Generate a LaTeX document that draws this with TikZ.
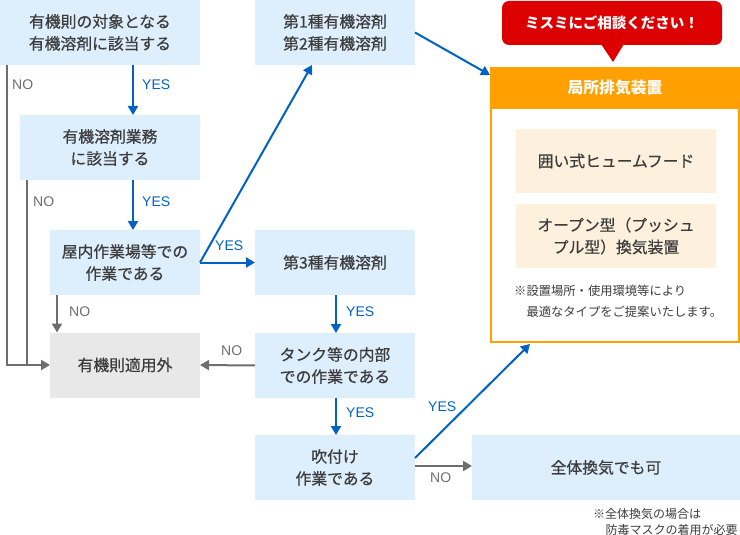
\documentclass[tikz,border=0pt]{standalone}
\usepackage{fontspec}
\setmainfont{Noto Sans CJK JP}
\newfontfamily\medfont{Noto Sans CJK JP}[FakeBold=0.5]
\newfontfamily\latinfont{Liberation Sans}
\usetikzlibrary{arrows.meta}
\definecolor{lblue}{HTML}{DDEEFC}
\definecolor{lgray}{HTML}{E8E8E8}
\definecolor{lineblue}{HTML}{0062C4}
\definecolor{linegray}{HTML}{6E6E6E}
\definecolor{txt}{HTML}{3C3C3C}
\definecolor{orng}{HTML}{FF9F00}
\definecolor{cream}{HTML}{FDF0DD}
\definecolor{callred}{HTML}{DC0000}
\tikzset{
  bx/.style={fill=lblue, inner sep=0pt, outer sep=0pt, align=center, text=txt,
    font=\medfont\fontsize{15.8}{22}\selectfont},
  graybx/.style={bx, fill=lgray},
  creambx/.style={bx, fill=cream},
  yes/.style={draw=lineblue, line width=2pt, -{Triangle[length=9pt,width=10pt]}},
  no/.style={draw=linegray, line width=2pt, -{Triangle[length=9pt,width=10pt]}},
  plainno/.style={draw=linegray, line width=2pt},
  yeslbl/.style={anchor=west, text=lineblue, inner sep=0pt, font=\latinfont\fontsize{14}{14}\selectfont},
  nolbl/.style={anchor=west, text=linegray, inner sep=0pt, font=\latinfont\fontsize{14}{14}\selectfont},
  note/.style={anchor=north west, align=left, inner sep=0pt, text=txt}
}
\begin{document}
\begin{tikzpicture}[x=1pt,y=-1pt]
\useasboundingbox (0,0) rectangle (740,535);
% boxes
\node[bx, minimum width=200, minimum height=65] (A) at (100,32.5) {有機則の対象となる\\有機溶剤に該当する};
\node[bx, minimum width=180, minimum height=65] (B) at (110,147.5) {有機溶剤業務\\に該当する};
\node[bx, minimum width=150, minimum height=65] (C) at (125,262.5) {屋内作業場等での\\作業である};
\node[graybx, minimum width=150, minimum height=65] (D) at (125,365) {有機則適用外};
\node[bx, minimum width=160, minimum height=65] (E) at (335,32.5) {第1種有機溶剤\\第2種有機溶剤};
\node[bx, minimum width=160, minimum height=65] (F) at (335,262.5) {第3種有機溶剤};
\node[bx, minimum width=160, minimum height=65] (G) at (335,365.5) {タンク等の内部\\での作業である};
\node[bx, minimum width=160, minimum height=65] (H) at (335,467.5) {吹付け\\作業である};
\node[bx, minimum width=268, minimum height=65] (I) at (606,467.5) {全体換気でも可};
% orange panel
\node[draw=orng, line width=2pt, minimum width=248, minimum height=273, inner sep=0pt, outer sep=0pt] (OR) at (615,205) {};
\node[fill=orng, minimum width=250, minimum height=42, inner sep=0pt, outer sep=0pt, text=white,
  font=\fontsize{15.8}{15.8}\selectfont\bfseries] (ORH) at (615,88) {局所排気装置};
\node[creambx, minimum width=200, minimum height=64] (K1) at (616,161) {囲い式ヒュームフード};
\node[creambx, minimum width=200, minimum height=64] (K2) at (616,236) {オープン型（プッシュ\\プル型）換気装置};
\node[note, font=\fontsize{12.3}{21}\selectfont] (N1) at (514,285) {※設置場所・使用環境等により\\\hspace{12.3pt}最適なタイプをご提案いたします。};
% callout
\node[fill=callred, rounded corners=7pt, minimum width=220, minimum height=44, inner sep=0pt, text=white,
  font=\fontsize{14.5}{14.5}\selectfont\bfseries] (CALL) at (612,23) {ミスミにご相談ください！};
\coordinate (P1) at (601,44);
\coordinate (P2) at (624,44);
\coordinate (PT) at (613,62);
\fill[callred] (P1) -- (P2) -- (PT) -- cycle;
% bottom note
\node[note, font=\fontsize{12}{16}\selectfont] (N2) at (593,508) {※全体換気の場合は\\\hspace{12.5pt}防毒マスクの着用が必要};
% helper coordinates
\coordinate (xa) at (133,0);
\coordinate (x7) at (7,0);
\coordinate (x27) at (27,0);
\coordinate (x57) at (57,0);
\coordinate (xf) at (336,0);
\coordinate (Etip) at (312,65);
\coordinate (ORin) at (490,75);
\coordinate (ORbot) at (530,344);
% connectors
\draw[yes] (A.south -| xa) -- (B.north -| xa);
\draw[yes] (B.south -| xa) -- (C.north -| xa);
\draw[no] (A.south -| x7) |- (D.west);
\draw[plainno] (B.south -| x27) -- (x27 |- D.west);
\draw[no] (C.south -| x57) -- (D.north -| x57);
\draw[yes] (C.east) -- (F.west);
\draw[yes] (C.east) -- (Etip);
\draw[yes] (E.east) -- (ORin);
\draw[yes] (F.south -| xf) -- (G.north -| xf);
\draw[no] (G.west) -- (D.east);
\draw[yes] (G.south -| xf) -- (H.north -| xf);
\draw[yes] ([yshift=9.5pt]H.east) -- (ORbot);
\draw[no] ([yshift=1.5pt]H.east) -- ([yshift=1.5pt]I.west);
% labels
\node[yeslbl] (l1) at (142,85) {YES};
\node[nolbl] (l2) at (12,85) {NO};
\node[yeslbl] (l3) at (142,202) {YES};
\node[nolbl] (l4) at (33,202) {NO};
\node[nolbl] (l5) at (69,312) {NO};
\node[yeslbl] (l6) at (215,246) {YES};
\node[nolbl] (l7) at (221,351) {NO};
\node[yeslbl] (l8) at (346,312) {YES};
\node[yeslbl] (l9) at (346,413) {YES};
\node[yeslbl] (l10) at (428,407) {YES};
\node[nolbl] (l11) at (430,478) {NO};
\end{tikzpicture}
\end{document}
